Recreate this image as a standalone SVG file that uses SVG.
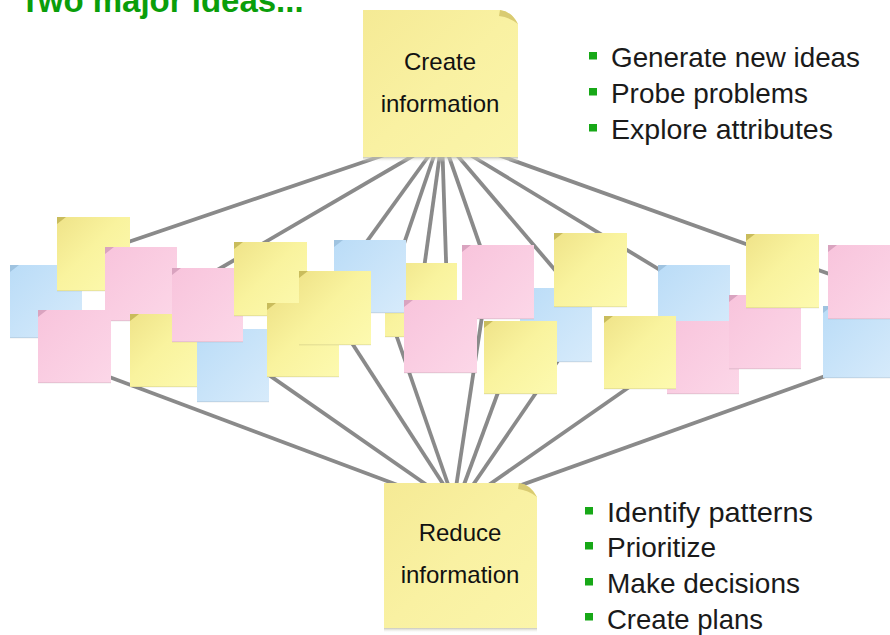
<svg xmlns="http://www.w3.org/2000/svg" width="890" height="635" viewBox="0 0 890 635">
<defs>
<linearGradient id="gy" x1="0" y1="0" x2="1" y2="1">
<stop offset="0" stop-color="#efe389"/><stop offset="0.45" stop-color="#f9f39e"/><stop offset="1" stop-color="#fdfab0"/>
</linearGradient>
<linearGradient id="gp" x1="0" y1="0" x2="1" y2="1">
<stop offset="0" stop-color="#f8c4dc"/><stop offset="1" stop-color="#fcd7e8"/>
</linearGradient>
<linearGradient id="gb" x1="0" y1="0" x2="1" y2="1">
<stop offset="0" stop-color="#badcf7"/><stop offset="1" stop-color="#d7ebfb"/>
</linearGradient>
<linearGradient id="gbig" x1="0" y1="0" x2="1" y2="1">
<stop offset="0" stop-color="#f5ea95"/><stop offset="0.5" stop-color="#f9f1a2"/><stop offset="1" stop-color="#fbf5aa"/>
</linearGradient>
<linearGradient id="gsh" x1="0" y1="0" x2="0" y2="1">
<stop offset="0" stop-color="#b9b9a8" stop-opacity="0.8"/><stop offset="1" stop-color="#ffffff" stop-opacity="0"/>
</linearGradient>
</defs>
<style>
.y{fill:url(#gy)}
.p{fill:url(#gp)}
.b{fill:url(#gb)}
.fy{fill:#c9bc5c}
.fp{fill:#d9a3bf}
.fb{fill:#9fc3e0}
.edge{fill:#000;opacity:0.07}
.big{fill:url(#gbig)}
.lbl{font-family:"Liberation Sans",Arial,sans-serif;font-size:24px;fill:#111;text-anchor:middle}
.bul{font-family:"Liberation Sans",Arial,sans-serif;font-size:27.5px;fill:#1a1a1a}
.sq{fill:#17a817}
#connectors line{stroke:#8a8a8a;stroke-width:3.8;stroke-linecap:butt}
</style>

<text x="20" y="12" font-family="Liberation Sans,Arial,sans-serif" font-weight="bold" font-size="33" fill="#0a9e0a">Two major ideas...</text>

<g id="connectors">
<line x1="399" y1="150" x2="93" y2="254"/>
<line x1="423" y1="150" x2="207" y2="276"/>
<line x1="433" y1="150" x2="339" y2="280"/>
<line x1="436" y1="150" x2="395" y2="270"/>
<line x1="440.5" y1="150" x2="421" y2="290"/>
<line x1="442.4" y1="150" x2="447" y2="290"/>
<line x1="446.7" y1="150" x2="492" y2="280"/>
<line x1="452.7" y1="150" x2="572" y2="290"/>
<line x1="462" y1="150" x2="693" y2="290"/>
<line x1="484" y1="150" x2="860" y2="285"/>
<line x1="64" y1="360" x2="411" y2="490"/>
<line x1="233" y1="350" x2="434" y2="490"/>
<line x1="337" y1="320" x2="447" y2="490"/>
<line x1="391" y1="320" x2="450" y2="490"/>
<line x1="484.5" y1="300" x2="455.6" y2="490"/>
<line x1="510" y1="360" x2="462" y2="490"/>
<line x1="579" y1="330" x2="469.5" y2="490"/>
<line x1="668" y1="360" x2="481.5" y2="490"/>
<line x1="870" y1="360" x2="507.7" y2="490"/>
</g>

<g id="n01" transform="translate(10,265)"><rect class="b" width="72" height="73"/><rect class="edge" y="72" width="72" height="1.5"/><path class="fb" d="M0 0H9L0 7Z"/></g>
<g id="n02" transform="translate(57,217)"><rect class="y" width="73" height="74"/><rect class="edge" y="73" width="73" height="1.5"/><path class="fy" d="M0 0H9L0 7Z"/></g>
<g id="n03" transform="translate(105,247)"><rect class="p" width="72" height="74"/><rect class="edge" y="73" width="72" height="1.5"/><path class="fp" d="M0 0H9L0 7Z"/></g>
<g id="n04" transform="translate(38,310)"><rect class="p" width="73" height="73"/><rect class="edge" y="72" width="73" height="1.5"/><path class="fp" d="M0 0H9L0 7Z"/></g>
<g id="n05" transform="translate(130,314)"><rect class="y" width="72" height="73"/><rect class="edge" y="72" width="72" height="1.5"/><path class="fy" d="M0 0H9L0 7Z"/></g>
<g id="n06" transform="translate(197,329)"><rect class="b" width="72" height="73"/><rect class="edge" y="72" width="72" height="1.5"/><path class="fb" d="M0 0H9L0 7Z"/></g>
<g id="n07" transform="translate(172,268)"><rect class="p" width="71" height="74"/><rect class="edge" y="73" width="71" height="1.5"/><path class="fp" d="M0 0H9L0 7Z"/></g>
<g id="n08" transform="translate(234,242)"><rect class="y" width="73" height="74"/><rect class="edge" y="73" width="73" height="1.5"/><path class="fy" d="M0 0H9L0 7Z"/></g>
<g id="n09" transform="translate(267,303)"><rect class="y" width="72" height="74"/><rect class="edge" y="73" width="72" height="1.5"/><path class="fy" d="M0 0H9L0 7Z"/></g>
<g id="n10" transform="translate(385,263)"><rect class="y" width="72" height="74"/><rect class="edge" y="73" width="72" height="1.5"/><path class="fy" d="M0 0H9L0 7Z"/></g>
<g id="n11" transform="translate(334,240)"><rect class="b" width="72" height="73"/><rect class="edge" y="72" width="72" height="1.5"/><path class="fb" d="M0 0H9L0 7Z"/></g>
<g id="n12" transform="translate(299,271)"><rect class="y" width="72" height="74"/><rect class="edge" y="73" width="72" height="1.5"/><path class="fy" d="M0 0H9L0 7Z"/></g>
<g id="n13" transform="translate(520,288)"><rect class="b" width="72" height="74"/><rect class="edge" y="73" width="72" height="1.5"/><path class="fb" d="M0 0H9L0 7Z"/></g>
<g id="n14" transform="translate(462,245)"><rect class="p" width="72" height="74"/><rect class="edge" y="73" width="72" height="1.5"/><path class="fp" d="M0 0H9L0 7Z"/></g>
<g id="n15" transform="translate(404,300)"><rect class="p" width="73" height="73"/><rect class="edge" y="72" width="73" height="1.5"/><path class="fp" d="M0 0H9L0 7Z"/></g>
<g id="n16" transform="translate(484,321)"><rect class="y" width="73" height="73"/><rect class="edge" y="72" width="73" height="1.5"/><path class="fy" d="M0 0H9L0 7Z"/></g>
<g id="n17" transform="translate(554,233)"><rect class="y" width="73" height="74"/><rect class="edge" y="73" width="73" height="1.5"/><path class="fy" d="M0 0H9L0 7Z"/></g>
<g id="n18" transform="translate(658,265)"><rect class="b" width="72" height="73"/><rect class="edge" y="72" width="72" height="1.5"/><path class="fb" d="M0 0H9L0 7Z"/></g>
<g id="n19" transform="translate(667,321)"><rect class="p" width="72" height="73"/><rect class="edge" y="72" width="72" height="1.5"/><path class="fp" d="M0 0H9L0 7Z"/></g>
<g id="n20" transform="translate(604,316)"><rect class="y" width="72" height="73"/><rect class="edge" y="72" width="72" height="1.5"/><path class="fy" d="M0 0H9L0 7Z"/></g>
<g id="n21" transform="translate(729,295)"><rect class="p" width="72" height="74"/><rect class="edge" y="73" width="72" height="1.5"/><path class="fp" d="M0 0H9L0 7Z"/></g>
<g id="n22" transform="translate(746,234)"><rect class="y" width="73" height="74"/><rect class="edge" y="73" width="73" height="1.5"/><path class="fy" d="M0 0H9L0 7Z"/></g>
<g id="n23" transform="translate(823,306)"><rect class="b" width="72" height="72"/><rect class="edge" y="71" width="72" height="1.5"/><path class="fb" d="M0 0H9L0 7Z"/></g>
<g id="n24" transform="translate(828,245)"><rect class="p" width="72" height="74"/><rect class="edge" y="73" width="72" height="1.5"/><path class="fp" d="M0 0H9L0 7Z"/></g>

<g id="create">
<rect x="363" y="157" width="155" height="5" fill="url(#gsh)"/>
<path class="big" d="M363 10H500Q512 12 518 24V157H363Z"/>
<path d="M500 10Q511 11 518 24Q509 17 499 16Z" fill="#d9cb72"/>
<text class="lbl" x="440" y="70">Create</text>
<text class="lbl" x="440" y="112">information</text>
</g>

<g id="reduce">
<rect x="384" y="628" width="153" height="5" fill="url(#gsh)"/>
<path class="big" d="M384 483H519Q531 485 537 497V628H384Z"/>
<path d="M519 483Q530 484 537 497Q528 490 518 489Z" fill="#d9cb72"/>
<text class="lbl" x="460" y="541">Reduce</text>
<text class="lbl" x="460" y="583">information</text>
</g>

<g id="create-list">
<rect class="sq" x="589" y="52" width="8" height="7.5"/>
<text class="bul" x="611" y="67" textLength="249" lengthAdjust="spacingAndGlyphs">Generate new ideas</text>
<rect class="sq" x="589" y="88" width="8" height="7.5"/>
<text class="bul" x="611" y="103" textLength="197" lengthAdjust="spacingAndGlyphs">Probe problems</text>
<rect class="sq" x="589" y="124" width="8" height="7.5"/>
<text class="bul" x="611" y="139" textLength="222" lengthAdjust="spacingAndGlyphs">Explore attributes</text>
</g>

<g id="reduce-list">
<rect class="sq" x="585" y="507" width="8" height="7.5"/>
<text class="bul" x="607" y="522" textLength="206" lengthAdjust="spacingAndGlyphs">Identify patterns</text>
<rect class="sq" x="585" y="542" width="8" height="7.5"/>
<text class="bul" x="607" y="557" textLength="109" lengthAdjust="spacingAndGlyphs">Prioritize</text>
<rect class="sq" x="585" y="578" width="8" height="7.5"/>
<text class="bul" x="607" y="593" textLength="193" lengthAdjust="spacingAndGlyphs">Make decisions</text>
<rect class="sq" x="585" y="613" width="8" height="7.5"/>
<text class="bul" x="607" y="629" textLength="156" lengthAdjust="spacingAndGlyphs">Create plans</text>
</g>
</svg>
